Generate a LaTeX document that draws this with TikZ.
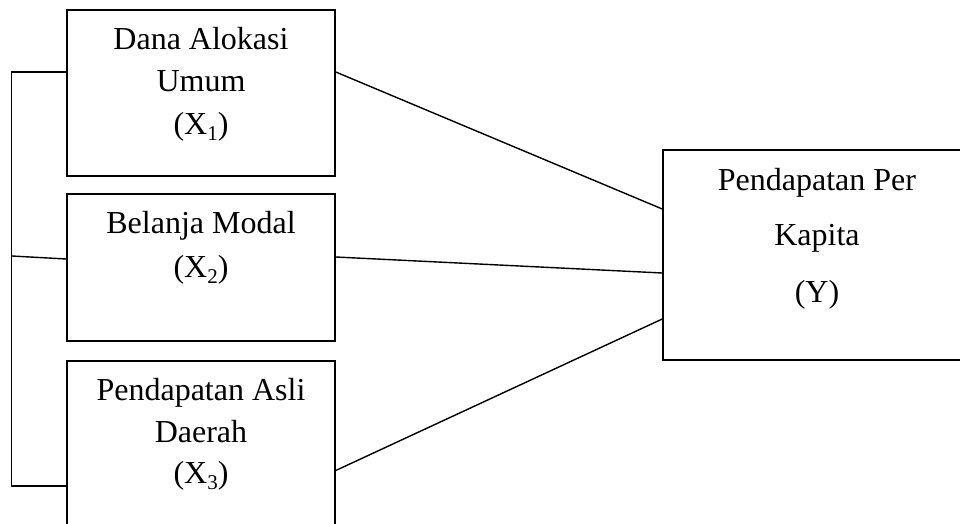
\documentclass[tikz,border=0pt]{standalone}
\usepackage{fontspec}
\setmainfont{Liberation Serif}
\usetikzlibrary{calc}
\newcommand{\mysub}[1]{\raisebox{-0.2em}{\fontsize{21}{24}\selectfont #1}}
\begin{document}
\begin{tikzpicture}[x=1pt,y=-1pt,
  box/.style={draw,line width=1.5pt,minimum width=268pt,inner sep=0pt},
  txt/.style={anchor=base,inner sep=0pt,font=\fontsize{32}{38}\selectfont},
  conn/.style={line width=1.4pt}]
\useasboundingbox (0,0) rectangle (960,524);
\clip (0,0) rectangle (960,524);
% boxes
\node[box,minimum height=166pt] (x1) at (201,93) {};
\node[box,minimum height=147pt] (x2) at (201,267.5) {};
\node[box,minimum height=219pt] (x3) at (201,470.5) {};
\node[box,minimum width=308pt,minimum height=210pt] (y) at (817,255) {};
% texts
\node[txt] (t1a) at (201,50) {Dana Alokasi};
\node[txt] (t1b) at (201,92) {Umum};
\node[txt] (t1c) at (201,134) {(X\mysub{1})};
\node[txt] (t2a) at (201,233) {Belanja Modal};
\node[txt] (t2b) at (201,277) {(X\mysub{2})};
\node[txt] (t3a) at (201,400) {Pendapatan Asli};
\node[txt] (t3b) at (201,442) {Daerah};
\node[txt] (t3c) at (201,483) {(X\mysub{3})};
\node[txt] (tya) at (817,190) {Pendapatan Per};
\node[txt] (tyb) at (817,245) {Kapita};
\node[txt] (tyc) at (817,302) {(Y)};
% connectors
\draw[conn] ([yshift=21pt]x1.east) -- ([yshift=46pt]y.west);
\draw[conn] ([yshift=10.5pt]x2.east) -- ([yshift=-18pt]y.west);
\draw[conn] ([yshift=0pt]x3.east) -- ([yshift=-64pt]y.west);
% left bracket
\coordinate (bk) at (12,256);
\draw[conn] ([yshift=21pt]x1.west) -- ++(-55,0) |- ([yshift=-15.5pt]x3.west);
\draw[conn] (bk) -- ([yshift=8.5pt]x2.west);
\end{tikzpicture}
\end{document}
